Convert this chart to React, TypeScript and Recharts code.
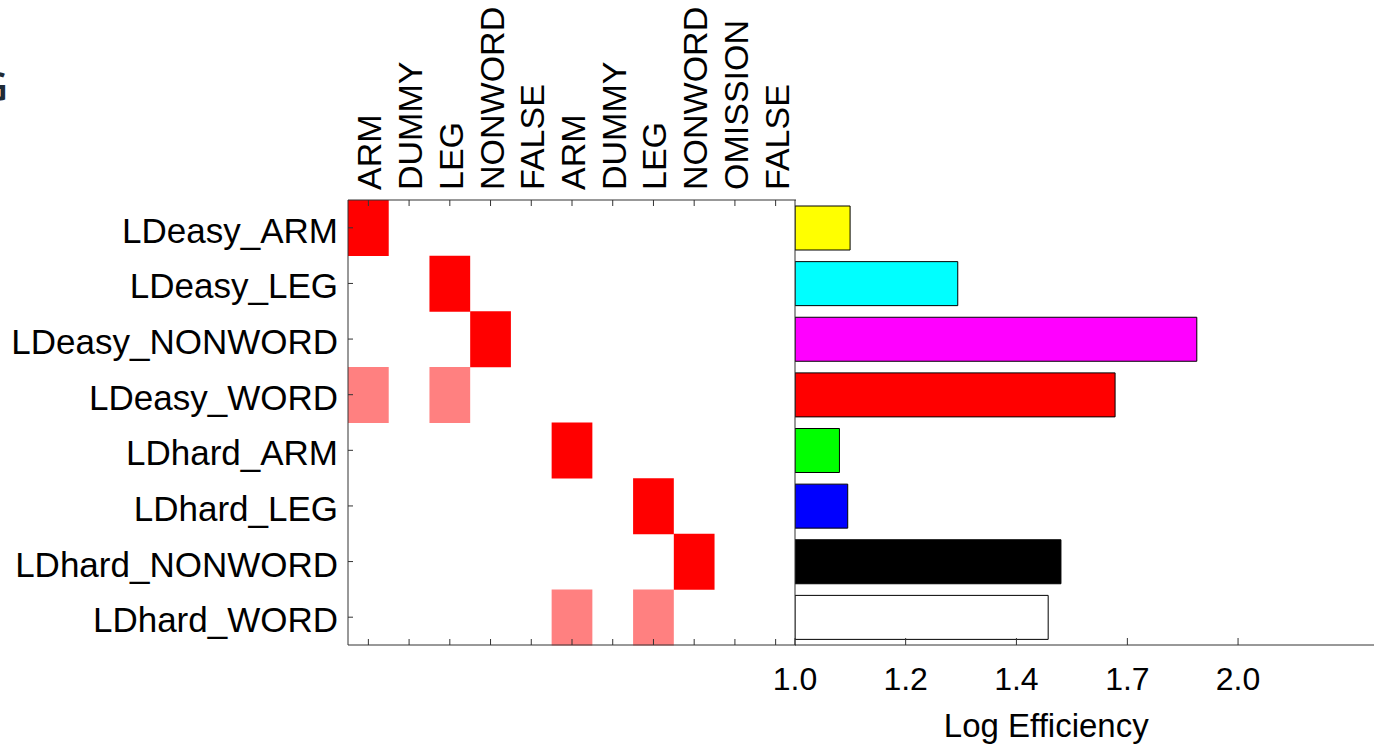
import { Bar, BarChart, Cell, Label, XAxis, YAxis } from 'recharts';

const FONT = '"Liberation Sans", Arial, Helvetica, sans-serif';
const AXIS = '#333333';
const RED = '#ff0000';
const PINK = '#ff8080';

const rows = [
  'LDeasy_ARM',
  'LDeasy_LEG',
  'LDeasy_NONWORD',
  'LDeasy_WORD',
  'LDhard_ARM',
  'LDhard_LEG',
  'LDhard_NONWORD',
  'LDhard_WORD',
];

const columns = [
  'ARM',
  'DUMMY',
  'LEG',
  'NONWORD',
  'FALSE',
  'ARM',
  'DUMMY',
  'LEG',
  'NONWORD',
  'OMISSION',
  'FALSE',
];

// contrast weights per row (1 = full, 0.5 = half, 0 = none)
const weights = [
  [1, 0, 0, 0, 0, 0, 0, 0, 0, 0, 0],
  [0, 0, 1, 0, 0, 0, 0, 0, 0, 0, 0],
  [0, 0, 0, 1, 0, 0, 0, 0, 0, 0, 0],
  [0.5, 0, 0.5, 0, 0, 0, 0, 0, 0, 0, 0],
  [0, 0, 0, 0, 0, 1, 0, 0, 0, 0, 0],
  [0, 0, 0, 0, 0, 0, 0, 1, 0, 0, 0],
  [0, 0, 0, 0, 0, 0, 0, 0, 1, 0, 0],
  [0, 0, 0, 0, 0, 0.5, 0, 0.5, 0, 0, 0],
];

const efficiency = [1.09, 1.29, 1.875, 1.65, 1.072, 1.086, 1.516, 1.486];
const barColors = ['#ffff00', '#00ffff', '#ff00ff', '#ff0000', '#00ff00', '#0000ff', '#000000', '#ffffff'];
const effTicks = [1.0, 1.189, 1.414, 1.682, 2.0];
const effDomain = [1, 2.474];

const colTicks = columns.map((_, j) => j + 0.5);

const matrixData = rows.map((row) => {
  const d: Record<string, string | number> = { row };
  columns.forEach((_, j) => {
    d[`c${j}`] = 1;
  });
  return d;
});

const effData = rows.map((row, i) => ({ row, value: efficiency[i] }));

function cellFill(w: number) {
  if (w >= 1) return RED;
  if (w > 0) return PINK;
  return 'transparent';
}

function TopTick(props: any) {
  const { x, y, payload } = props;
  const label = columns[Math.floor(payload.value)];
  return (
    <g>
      <line x1={x} y1={y} x2={x} y2={y + 6} stroke={AXIS} />
      <text
        transform={`translate(${x + 13}, ${y - 10}) rotate(-90)`}
        fontFamily={FONT}
        fontSize={34}
        fill="#000"
        textAnchor="start"
      >
        {label}
      </text>
    </g>
  );
}

function BottomTick(props: any) {
  const { x, y } = props;
  return <line x1={x} y1={y} x2={x} y2={y - 6} stroke={AXIS} />;
}

function RowTick(props: any) {
  const { x, y, payload } = props;
  return (
    <g>
      <line x1={x} y1={y} x2={x + 5} y2={y} stroke={AXIS} />
      <text x={x - 10} y={y + 15} fontFamily={FONT} fontSize={35} fill="#000" textAnchor="end">
        {payload.value}
      </text>
    </g>
  );
}

function EffTick(props: any) {
  const { x, y, payload } = props;
  return (
    <g>
      <line x1={x} y1={y} x2={x} y2={y - 7} stroke={AXIS} />
      <text x={x} y={y + 45} fontFamily={FONT} fontSize={32} fill="#000" textAnchor="middle">
        {Number(payload.value).toFixed(1)}
      </text>
    </g>
  );
}

function AxisTitle(props: any) {
  const { viewBox } = props;
  return (
    <text
      x={viewBox.x + viewBox.width * 0.434}
      y={viewBox.y + 92}
      fontFamily={FONT}
      fontSize={33}
      fill="#000"
      textAnchor="middle"
    >
      Log Efficiency
    </text>
  );
}

export default function App() {
  return (
    <div
      style={{
        position: 'absolute',
        left: 0,
        top: 0,
        width: 1374,
        height: 745,
        background: '#fff',
        overflow: 'hidden',
      }}
    >
      <svg width={20} height={120} style={{ position: 'absolute', left: 0, top: 0 }}>
        <text x={8} y={101} fontFamily='"Open Sans", sans-serif' fontWeight={600} fontSize={39} fill="#1f2b36" textAnchor="end">
          G
        </text>
      </svg>

      <div style={{ position: 'absolute', left: 0, top: 0 }}>
        <BarChart
          layout="vertical"
          width={796}
          height={745}
          data={matrixData}
          margin={{ top: 190, right: 0, bottom: 90, left: 0 }}
          barCategoryGap={0}
        >
          {columns.map((_, j) => (
            <Bar key={j} xAxisId="bottom" dataKey={`c${j}`} stackId="m" isAnimationActive={false}>
              {weights.map((w, i) => (
                <Cell key={i} fill={cellFill(w[j])} />
              ))}
            </Bar>
          ))}
          <XAxis
            xAxisId="bottom"
            type="number"
            orientation="bottom"
            domain={[0, columns.length]}
            ticks={colTicks}
            allowDataOverflow
            height={10}
            tickSize={0}
            tickMargin={0}
            tickLine={false}
            axisLine={{ stroke: AXIS }}
            tick={<BottomTick />}
          />
          <XAxis
            xAxisId="top"
            type="number"
            orientation="top"
            domain={[0, columns.length]}
            ticks={colTicks}
            allowDataOverflow
            height={10}
            tickSize={0}
            tickMargin={0}
            tickLine={false}
            axisLine={{ stroke: AXIS }}
            tick={<TopTick />}
          />
          <YAxis
            type="category"
            dataKey="row"
            width={348}
            tickSize={0}
            tickMargin={0}
            tickLine={false}
            axisLine={{ stroke: AXIS }}
            tick={<RowTick />}
            interval={0}
          />
        </BarChart>
      </div>

      <div style={{ position: 'absolute', left: 700, top: 0 }}>
        <BarChart
          layout="vertical"
          width={674}
          height={745}
          data={effData}
          margin={{ top: 200, right: 0, bottom: 90, left: 0 }}
          barCategoryGap={6}
        >
          <Bar dataKey="value" stroke="#000" strokeWidth={1} isAnimationActive={false}>
            {effData.map((_, i) => (
              <Cell key={i} fill={barColors[i]} />
            ))}
          </Bar>
          <XAxis
            type="number"
            scale="log"
            domain={effDomain}
            ticks={effTicks}
            allowDataOverflow
            height={10}
            tickSize={0}
            tickMargin={0}
            tickLine={false}
            axisLine={{ stroke: AXIS }}
            tick={<EffTick />}
          >
            <Label content={<AxisTitle />} />
          </XAxis>
          <YAxis
            type="category"
            dataKey="row"
            width={95}
            tick={false}
            tickSize={6}
            tickLine={{ stroke: AXIS }}
            axisLine={{ stroke: AXIS }}
            interval={0}
          />
        </BarChart>
      </div>
    </div>
  );
}
